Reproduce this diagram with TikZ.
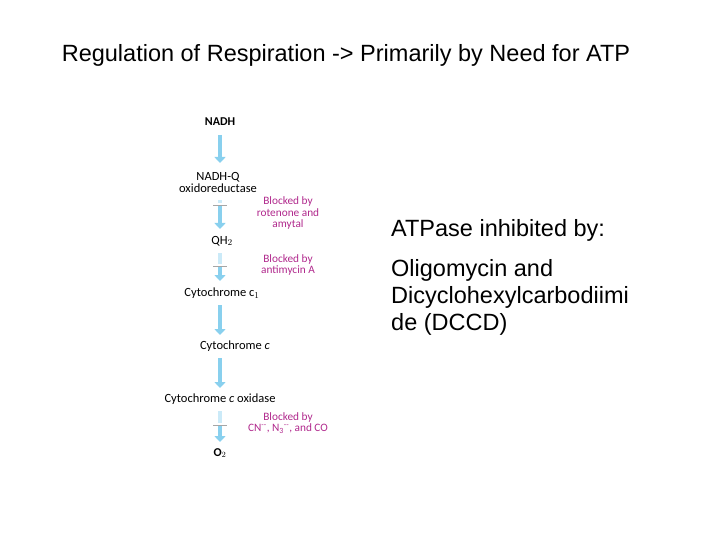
\documentclass[tikz,border=0pt]{standalone}
\usepackage{fontspec}
\setmainfont{Liberation Sans}
\newfontfamily\lab{Carlito}
\usetikzlibrary{arrows.meta}
\definecolor{flow}{HTML}{6CC4EA}
\definecolor{blk}{HTML}{B0288C}
\begin{document}
\begin{tikzpicture}[x=1pt,y=-1pt,
  lbl/.style={font=\lab\fontsize{12.5}{12}\selectfont, inner sep=0pt, align=center},
  blo/.style={font=\lab\fontsize{11.3}{11.5}\selectfont, text=blk, inner sep=0pt, align=center},
  big/.style={font=\fontsize{23.5}{27}\selectfont, inner sep=0pt},
  fl/.style={line width=4.5pt, flow!80, -{Triangle[length=6pt,width=11pt]}, shorten >=2pt, shorten <=2pt},
  bar/.style={draw=gray!70, line width=0.8pt}]
\useasboundingbox (0,0) rectangle (720,540);
\node[big] (title) at (346,55) {Regulation of Respiration -> Primarily by Need for ATP};
\node[lbl,font=\lab\bfseries\fontsize{12}{12}\selectfont] (nadh) at (220,122) {NADH};
\node[lbl] (nq) at (218,182) {NADH-Q\\oxidoreductase};
\node[lbl] (qh) at (222,241) {QH$_2$};
\node[lbl] (c1) at (222,293) {Cytochrome c$_1$};
\node[lbl] (cc) at (235,346) {Cytochrome \textit{c}};
\node[lbl] (cox) at (220,399) {Cytochrome \textit{c} oxidase};
\node[lbl,font=\lab\bfseries\fontsize{12}{12}\selectfont] (o2) at (220,453) {O$_2$};
\coordinate (a1) at (220,133); \coordinate (b1) at (220,165);
\draw[fl] (a1) -- (b1);
\coordinate (a2) at (220,198); \coordinate (b2) at (220,231);
\draw[fl,flow!35,-] (a2) -- (220,205); \draw[fl,shorten <=0pt] (220,205) -- (b2);
\coordinate (a3) at (220,251); \coordinate (b3) at (220,283);
\draw[fl,flow!35,-] (a3) -- (220,266); \draw[fl,shorten <=0pt] (220,266) -- (b3);
\coordinate (a4) at (220,303); \coordinate (b4) at (220,337);
\draw[fl] (a4) -- (b4);
\coordinate (a5) at (220,356); \coordinate (b5) at (220,390);
\draw[fl] (a5) -- (b5);
\coordinate (a6) at (220,409); \coordinate (b6) at (220,444);
\draw[fl,flow!35,-] (a6) -- (220,425); \draw[fl,shorten <=0pt] (220,425) -- (b6);
\draw[bar] (213,205) -- (227,205);
\draw[bar] (213,266) -- (227,266);
\draw[bar] (213,425) -- (227,425);
\node[blo] (k1) at (288,213) {Blocked by\\rotenone and\\amytal};
\node[blo] (k2) at (288,265) {Blocked by\\antimycin A};
\node[blo] (k3) at (288,423) {Blocked by\\CN\textsuperscript{--}, N\textsubscript{3}\textsuperscript{--}, and CO};
\node[big,anchor=west] (atp) at (391,230) {ATPase inhibited by:};
\node[big,anchor=north west,align=left] (oli) at (391,259) {Oligomycin and\\Dicyclohexylcarbodiimi\\de (DCCD)};
\end{tikzpicture}
\end{document}
